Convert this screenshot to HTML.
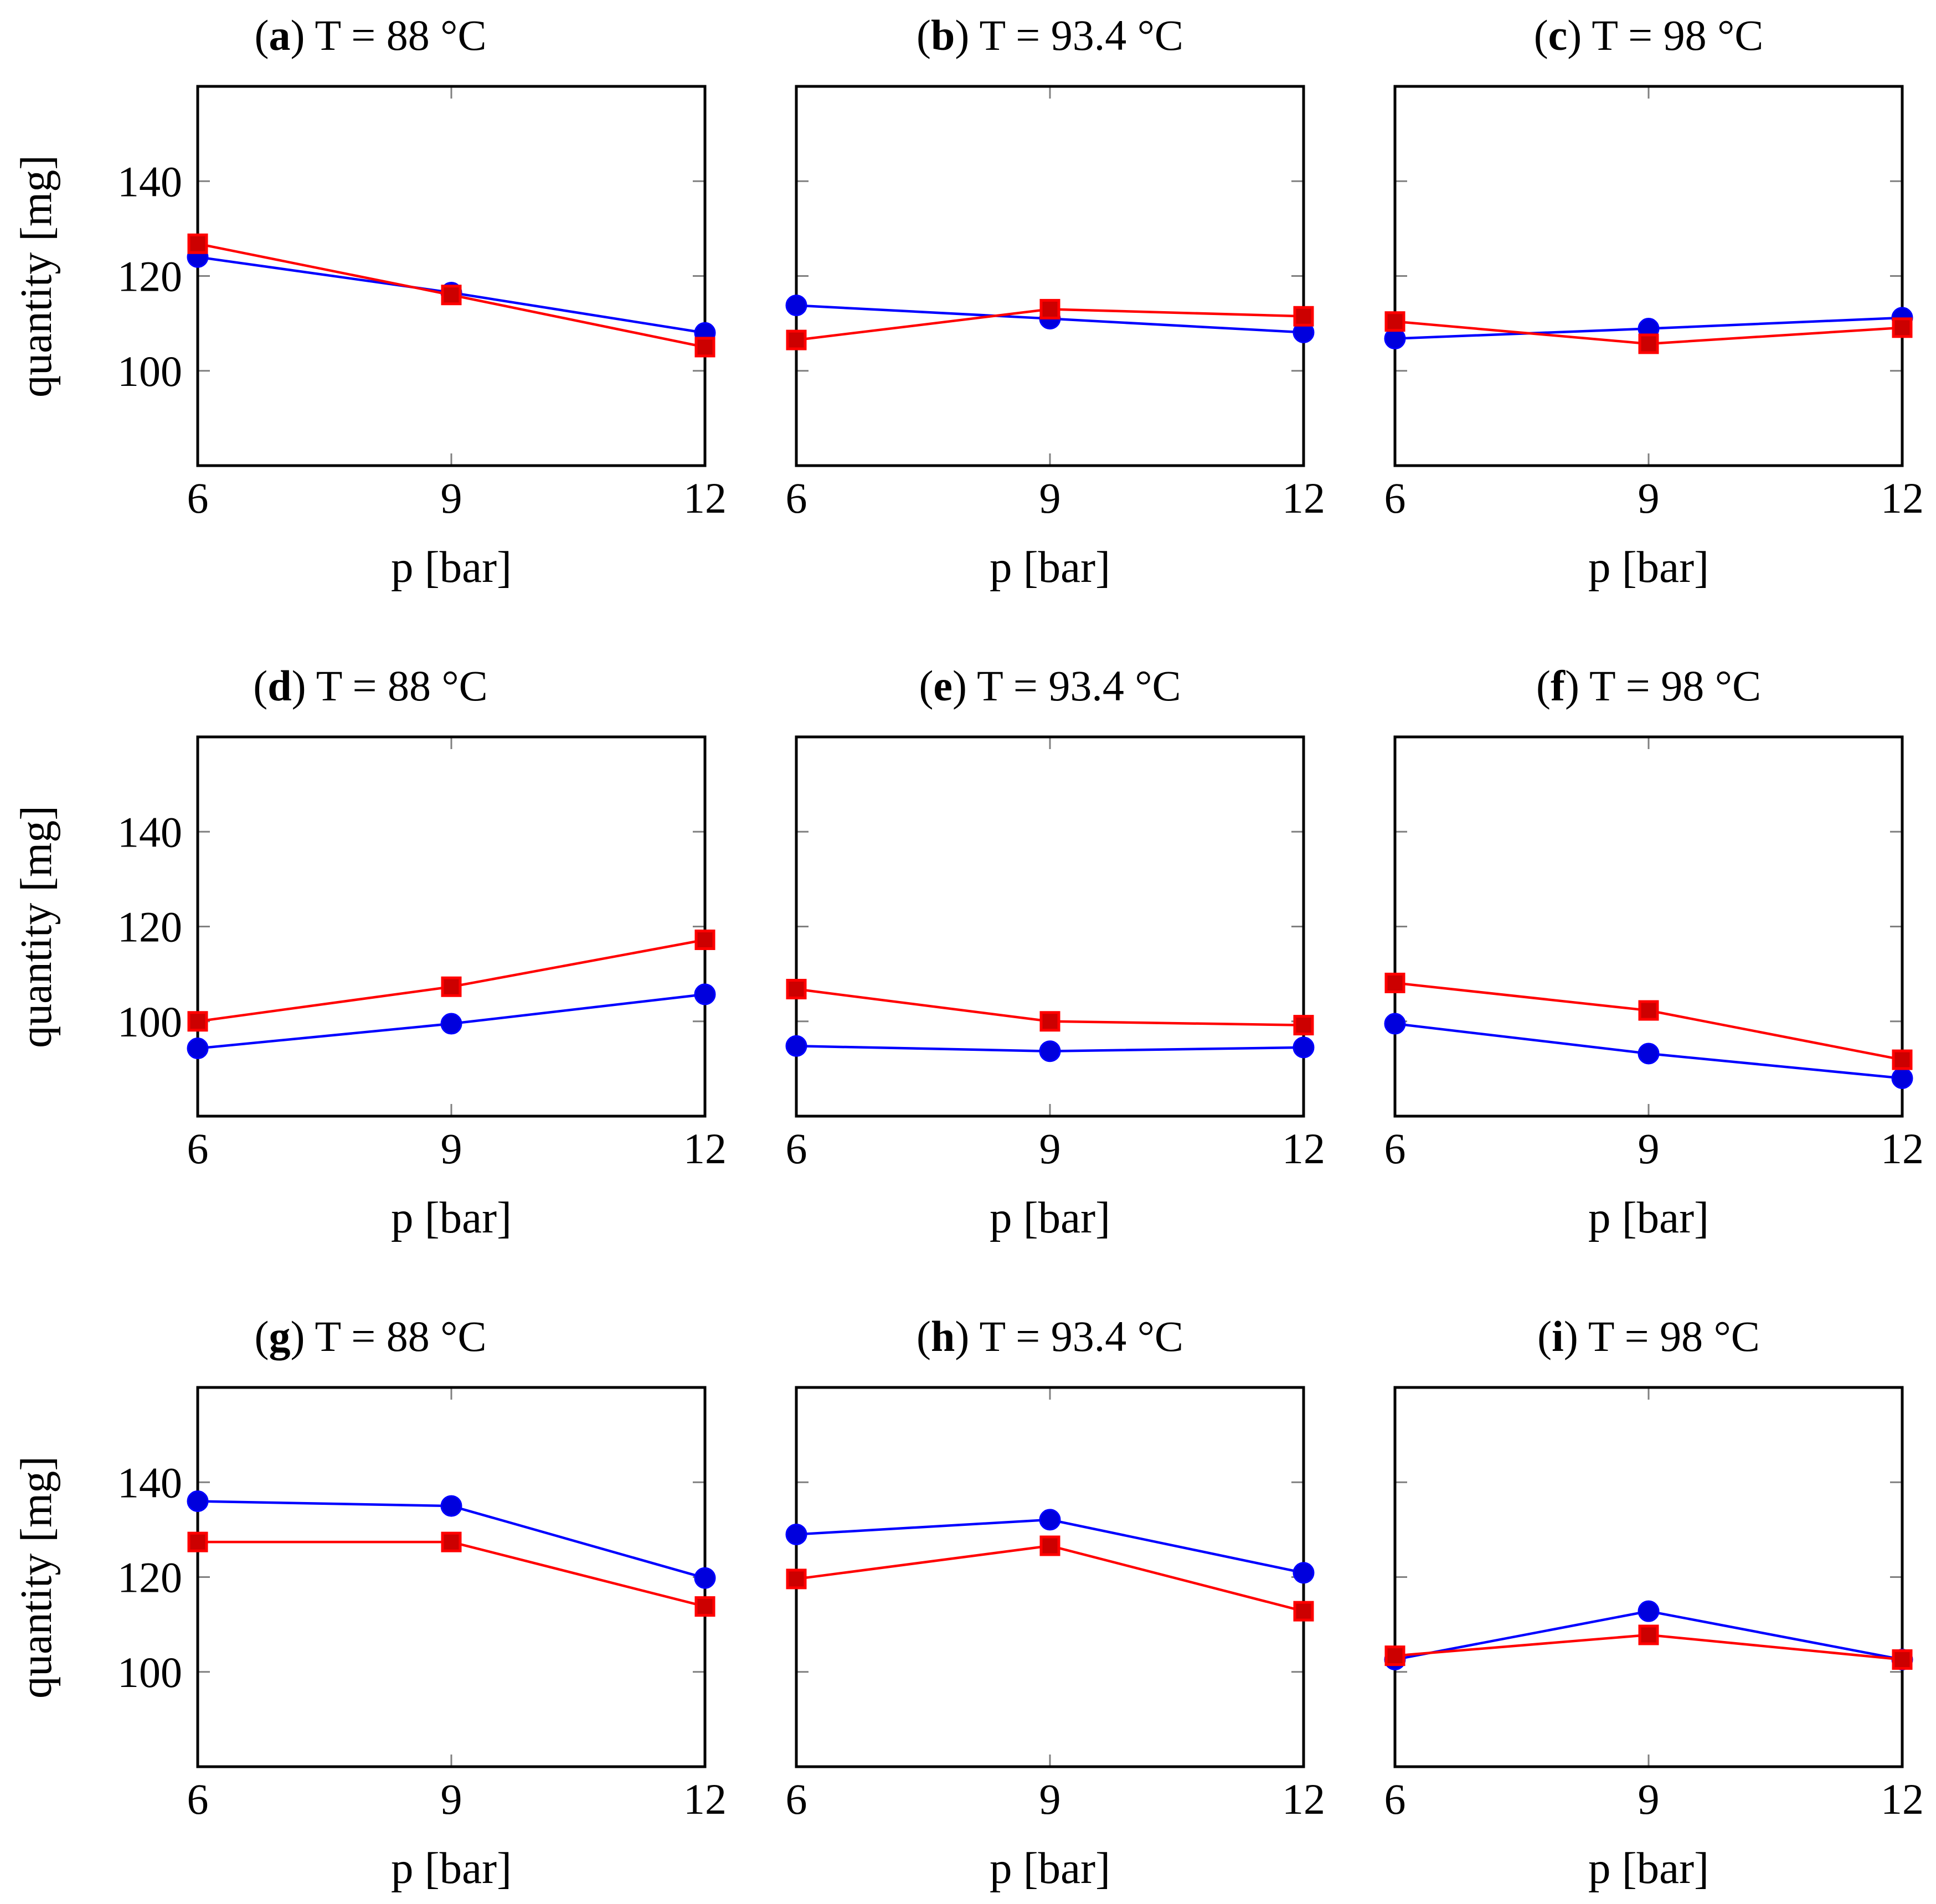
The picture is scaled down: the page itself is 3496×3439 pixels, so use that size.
<!DOCTYPE html>
<html><head><meta charset="utf-8"><style>
html,body{margin:0;padding:0;background:#fff;}
svg{display:block;font-family:"Liberation Serif",serif;}
</style></head><body>
<svg id="chart" width="3496" height="3439" viewBox="0 0 3496 3439" xmlns="http://www.w3.org/2000/svg"></svg>
<script>
const pressures = [6, 9, 12];
const letters = ["a","b","c","d","e","f","g","h","i"];
const temps = ["88","93.4","98","88","93.4","98","88","93.4","98"];
const blueValues = [
  [124, 116.5, 108],
  [113.8, 111, 108.1],
  [106.8, 108.9, 111.2],
  [94.3, 99.5, 105.7],
  [94.8, 93.7, 94.5],
  [99.5, 93.2, 88],
  [136, 135, 119.8],
  [129, 132.1, 120.9],
  [102.6, 112.8, 102.6]
];
const redValues = [
  [126.8, 116, 105],
  [106.5, 113, 111.5],
  [110.4, 105.7, 109.1],
  [100, 107.3, 117.2],
  [106.8, 100, 99.2],
  [108.1, 102.3, 91.9],
  [127.4, 127.4, 113.8],
  [119.6, 126.6, 112.8],
  [103.4, 107.8, 102.6]
];
const yTicks = [100, 120, 140];
const xTicks = [6, 9, 12];
const yMin = 80, yMax = 160, xMin = 6, xMax = 12;

const NS = "http://www.w3.org/2000/svg";
const svg = document.getElementById("chart");
const colLeft = [357, 1438, 2519];
const rowTop = [156, 1331, 2506];
const W = 916, H = 685;

function mk(tag, attrs, parent) {
  const e = document.createElementNS(NS, tag);
  for (const k in attrs) e.setAttribute(k, attrs[k]);
  (parent || svg).appendChild(e);
  return e;
}

for (let i = 0; i < 9; i++) {
  const r = Math.floor(i / 3), c = i % 3;
  const L = colLeft[c], T = rowTop[r];
  const sx = v => L + (v - xMin) / (xMax - xMin) * W;
  const sy = v => T + H - (v - yMin) / (yMax - yMin) * H;
  const g = mk("g", {});
  
  

  const tx = c === 0 ? 669 : L + W / 2;
  const title = mk("text", {x: tx, y: T - 66, "text-anchor": "middle", "font-size": 78, fill: "#000"}, g);
  
  
  title.innerHTML = '(<tspan font-weight="bold">' + letters[i] + '</tspan>) T = ' + temps[i] + ' °C';

  yTicks.forEach(v => {
    const y = sy(v);
    mk("line", {x1: L, x2: L + 22, y1: y, y2: y, stroke: "#808080", "stroke-width": 3}, g);
    mk("line", {x1: L + W - 22, x2: L + W, y1: y, y2: y, stroke: "#808080", "stroke-width": 3}, g);
    if (c === 0) {
      const t = mk("text", {x: L - 28, y: y + 27, "text-anchor": "end", "font-size": 78, fill: "#000"}, g);
      
      
      t.textContent = v;
    }
  });
  xTicks.forEach(v => {
    const x = sx(v);
    mk("line", {x1: x, x2: x, y1: T, y2: T + 22, stroke: "#808080", "stroke-width": 3}, g);
    mk("line", {x1: x, x2: x, y1: T + H - 22, y2: T + H, stroke: "#808080", "stroke-width": 3}, g);
    const t = mk("text", {x: x, y: T + H + 85, "text-anchor": "middle", "font-size": 78, fill: "#000"}, g);
    
    
    t.textContent = v;
  });

  const fr = mk("rect", {x: L, y: T, width: W, height: H, fill: "none", stroke: "#000", "stroke-width": 5}, g);
  
  

  const xl = mk("text", {x: L + W / 2, y: T + H + 210, "text-anchor": "middle", "font-size": 81, fill: "#000"}, g);
  
  
  xl.textContent = "p [bar]";

  if (c === 0) {
    const yl = mk("text", {x: 0, y: 0, transform: "translate(92," + (T + 343) + ") rotate(-90)", "text-anchor": "middle", "font-size": 80, fill: "#000"}, g);
    
    
    yl.textContent = "quantity [mg]";
  }

  const bp = pressures.map((p, k) => sx(p) + "," + sy(blueValues[i][k])).join(" ");
  const bl = mk("polyline", {points: bp, fill: "none", stroke: "#0000ff", "stroke-width": 4.5}, g);
  
  
  pressures.forEach((p, k) => {
    const m = mk("circle", {cx: sx(p), cy: sy(blueValues[i][k]), r: 18, fill: "#0000dd", stroke: "#0000ff", "stroke-width": 3}, g);
    
    
  });
  const rp = pressures.map((p, k) => sx(p) + "," + sy(redValues[i][k])).join(" ");
  const rl = mk("polyline", {points: rp, fill: "none", stroke: "#ff0000", "stroke-width": 4.5}, g);
  
  
  pressures.forEach((p, k) => {
    const m = mk("rect", {x: sx(p) - 16, y: sy(redValues[i][k]) - 16, width: 32, height: 32, fill: "#cc0000", stroke: "#ff0000", "stroke-width": 5}, g);
    
    
  });
}
</script>
</body></html>
